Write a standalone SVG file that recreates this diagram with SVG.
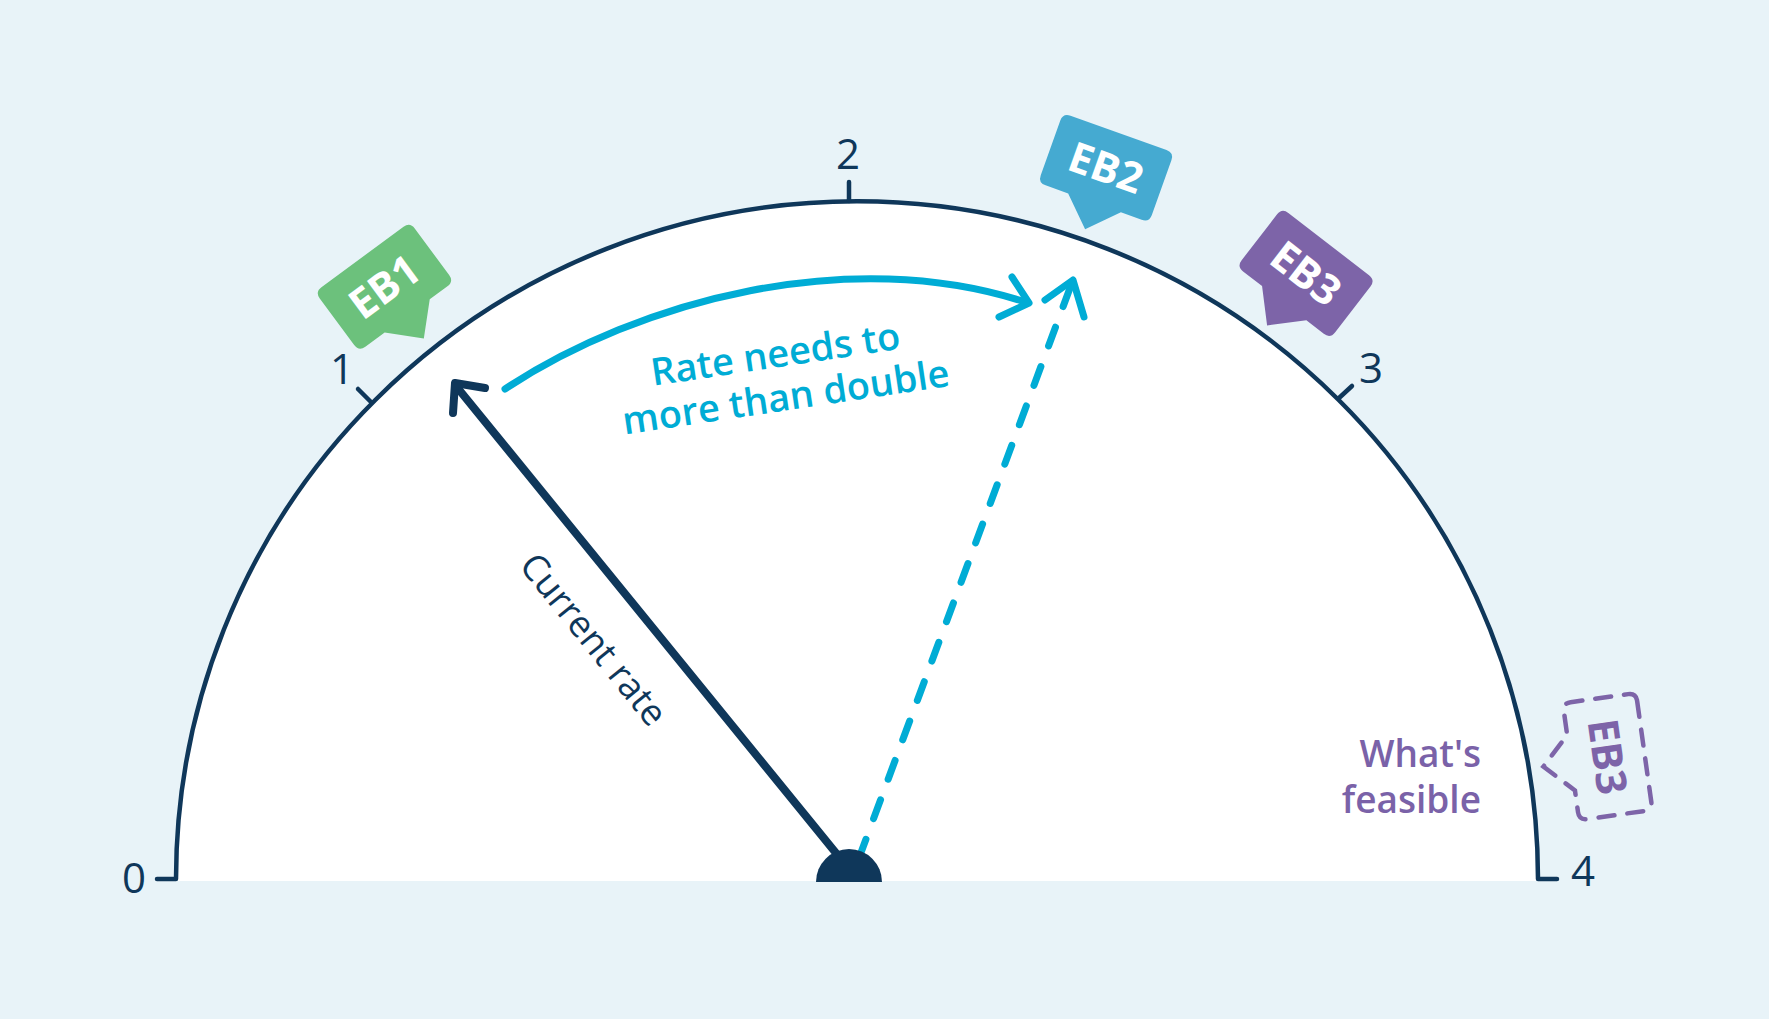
<svg xmlns="http://www.w3.org/2000/svg" width="1769" height="1019" viewBox="0 0 1769 1019">
<defs>
<style>
.navy{stroke:#0f375a;fill:none;stroke-linecap:round;stroke-linejoin:round}
.cyan{stroke:#00acd5;fill:none;stroke-linecap:round;stroke-linejoin:round}
.num{font-family:"Open Sans","Noto Sans",sans-serif;font-size:42px;fill:#0f375a;text-anchor:middle}
.tagtxt{font-family:"Open Sans","Noto Sans",sans-serif;font-size:42px;font-weight:700;fill:#ffffff;text-anchor:middle}
.lbl{font-family:"Open Sans","Noto Sans",sans-serif}
</style>
<path id="tag" d="M8,0 H110 Q118,0 118,8 V66 Q118,74 110,74 H88 L60,102 L32,74 H8 Q0,74 0,66 V8 Q0,0 8,0 Z"/>
</defs>
<rect x="0" y="0" width="1769" height="1019" fill="#e8f3f8"/>

<g id="dial">
<path d="M175,881 A681,680 0 0 1 1538,881 Z" fill="#ffffff"/>
<path class="navy" stroke-width="4.5" d="M157,879 L176,879 A681,678 0 0 1 1538,879 L1557,879"/>
<line class="navy" stroke-width="4.5" x1="849" y1="201" x2="849" y2="182"/>
<line class="navy" stroke-width="4.5" x1="371" y1="402" x2="358" y2="389"/>
<line class="navy" stroke-width="4.5" x1="1339" y1="398" x2="1352" y2="386"/>
<text class="num" x="134" y="893">0</text>
<text class="num" x="342" y="384">1</text>
<text class="num" x="848" y="169">2</text>
<text class="num" x="1371" y="383">3</text>
<text class="num" x="1583" y="886">4</text>
</g>

<g id="connectors">
<line class="cyan" stroke-width="7" x1="859" y1="858" x2="1070" y2="288" stroke-dasharray="20 22"/>
<polyline class="cyan" stroke-width="7" points="1045,300 1073,280 1084,317"/>
<path class="cyan" stroke-width="7" d="M505,389 C640,300 850,245 1025,302"/>
<polyline class="cyan" stroke-width="7" points="1012,277 1029,303 999,317"/>
<line class="navy" stroke-width="8" x1="840" y1="858" x2="456" y2="386"/>
<polyline class="navy" stroke-width="8" points="485,388 455,383 453,413"/>
</g>

<g id="hub">
<path d="M816,882 A33,33 0 0 1 882,882 Z" fill="#0f375a"/>
</g>

<g id="label-current">
<text class="lbl" x="518" y="566" transform="rotate(51 518 566)" font-size="36.5" fill="#0f375a">Current rate</text>
</g>

<g id="label-rate">
<g transform="rotate(-8.5 780 385)">
<text class="lbl" x="780" y="367" font-size="38" font-weight="600" fill="#00acd5" text-anchor="middle">Rate needs to</text>
<text class="lbl" x="784" y="411" font-size="38" font-weight="600" fill="#00acd5" text-anchor="middle">more than double</text>
</g>
</g>

<g id="label-feasible">
<text class="lbl" x="1481" y="767" font-size="37" font-weight="600" fill="#7a62a8" text-anchor="end">What's</text>
<text class="lbl" x="1481" y="813" font-size="37" font-weight="600" fill="#7a62a8" text-anchor="end">feasible</text>
</g>

<g id="EB1" transform="translate(315,292) rotate(-36.4)">
<use href="#tag" fill="#6cc17c"/>
<text class="tagtxt" x="59" y="52">EB1</text>
</g>

<g id="EB2" transform="translate(1063,113) rotate(19.7)">
<use href="#tag" fill="#45aad1"/>
<text class="tagtxt" x="59" y="52">EB2</text>
</g>

<g id="EB3" transform="translate(1282,208) rotate(37.7)">
<use href="#tag" fill="#7d64a8"/>
<text class="tagtxt" x="59" y="52">EB3</text>
</g>

<g id="EB3-dashed" transform="translate(1636,693) rotate(82)">
<use href="#tag" fill="none" stroke="#7d64a8" stroke-width="4.5" stroke-dasharray="16 13" stroke-linecap="round"/>
<text class="tagtxt" x="59" y="52" style="fill:#7d64a8">EB3</text>
</g>
</svg>
